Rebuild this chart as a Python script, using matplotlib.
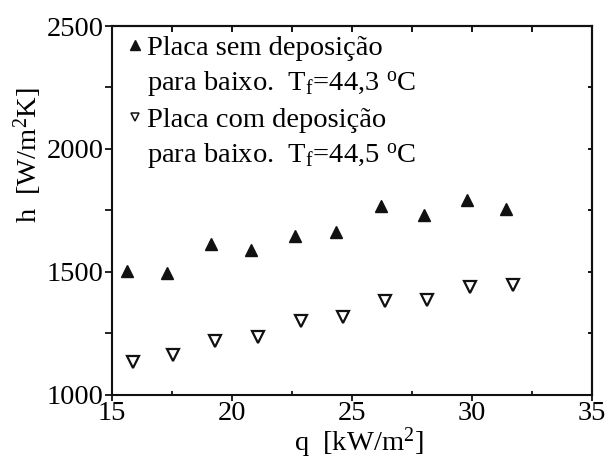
import matplotlib
matplotlib.use('Agg')
import matplotlib.pyplot as plt
from matplotlib.lines import Line2D
from matplotlib.ticker import MultipleLocator

# heat flux q [kW/m2] and heat transfer coefficient h [W/m2K]
q_sem = [15.62, 17.29, 19.13, 20.79, 22.64, 24.35, 26.21, 28.01, 29.79, 31.43]
h_sem = [1503, 1496, 1611, 1588, 1645, 1663, 1767, 1731, 1792, 1756]

q_com = [15.87, 17.54, 19.30, 21.08, 22.90, 24.63, 26.39, 28.13, 29.93, 31.71]
h_com = [1131, 1161, 1219, 1235, 1299, 1317, 1381, 1385, 1436, 1446]

labels = ["Placa sem deposição",
          "para baixo.  T$_\\mathregular{f}$=44,3 $^\\mathregular{o}$C",
          "Placa com deposição",
          "para baixo.  T$_\\mathregular{f}$=44,5 $^\\mathregular{o}$C"]

plt.rcParams['font.family'] = ['Liberation Serif', 'DejaVu Serif']
plt.rcParams['mathtext.fontset'] = 'custom'
plt.rcParams['mathtext.rm'] = 'Liberation Serif'
plt.rcParams['mathtext.it'] = 'Liberation Serif:italic'

FS = 20.5

fig = plt.figure(figsize=(6.08, 4.59), dpi=100)
ax = fig.add_axes([0.1837, 0.1405, 0.7895, 0.8028])

ax.plot(q_sem, h_sem, linestyle='none', marker='^', markersize=8.5,
        color='#111111')
ax.plot(q_com, h_com, linestyle='none', marker='v', markersize=8.5,
        markerfacecolor='white', markeredgecolor='#111111', markeredgewidth=1.6)

ax.set_xlim(15, 35)
ax.set_ylim(1000, 2500)
ax.xaxis.set_major_locator(MultipleLocator(5))
ax.xaxis.set_minor_locator(MultipleLocator(2.5))
ax.yaxis.set_major_locator(MultipleLocator(500))
ax.yaxis.set_minor_locator(MultipleLocator(250))

for s in ax.spines.values():
    s.set_linewidth(1.5)
    s.set_color('#111111')

ax.tick_params(axis='both', which='both', labelsize=FS, width=1.3, color='#111111')
ax.tick_params(axis='x', which='major', direction='out', length=4, pad=1)
ax.tick_params(axis='x', which='minor', direction='in', length=3)
ax.tick_params(axis='y', which='both', direction='out', length=5, pad=1)

# inward ticks on top and right
sec_x = ax.secondary_xaxis('top')
sec_x.xaxis.set_major_locator(MultipleLocator(2.5))
sec_x.tick_params(direction='in', length=4, width=1.3, labeltop=False)
sec_x.spines['top'].set_linewidth(1.5)
sec_y = ax.secondary_yaxis('right')
sec_y.yaxis.set_major_locator(MultipleLocator(250))
sec_y.tick_params(direction='in', length=3, width=1.3, labelright=False)
sec_y.spines['right'].set_linewidth(1.5)

ax.set_xlabel("q  [kW/m$^\\mathregular{2}$]", fontsize=FS)
ax.set_ylabel("h  [W/m$^\\mathregular{2}$K]", fontsize=FS)
ax.xaxis.set_label_coords(0.515, -0.085)
ax.yaxis.set_label_coords(-0.14, 0.65)

blank = Line2D([], [], linestyle='none', marker=None)
h1 = Line2D([], [], linestyle='none', marker='^', markersize=7, color='#111111')
h2 = Line2D([], [], linestyle='none', marker='v', markersize=6,
            markerfacecolor='white', markeredgecolor='#111111', markeredgewidth=1.1)
ax.legend([h1, blank, h2, blank], labels, loc='upper left',
          bbox_to_anchor=(0.033, 0.975), frameon=False, fontsize=FS,
          handlelength=0.5, handletextpad=0.2, borderpad=0, borderaxespad=0,
          labelspacing=0.3)

fig.savefig('out.png', dpi=100)
